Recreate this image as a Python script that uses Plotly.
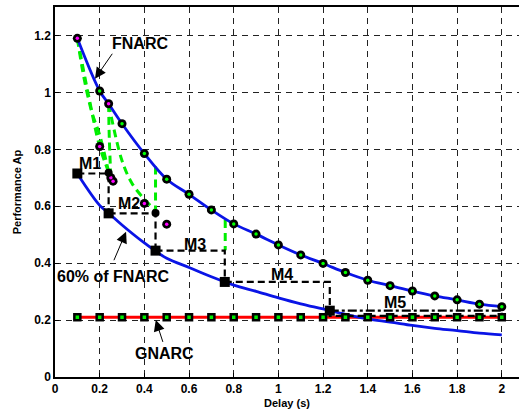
import plotly.graph_objects as go

# FNARC curve (upper) values
fn_x = [0.1, 0.2, 0.24, 0.3, 0.4, 0.5, 0.6, 0.7, 0.8, 0.9, 1.0, 1.1, 1.2, 1.3, 1.4, 1.5, 1.6, 1.7, 1.8, 1.9, 2.0]
fn_y = [1.19, 1.005, 0.96, 0.89, 0.785, 0.695, 0.642, 0.587, 0.538, 0.502, 0.464, 0.429, 0.399, 0.367, 0.340, 0.321, 0.302, 0.285, 0.271, 0.256, 0.247]
# 60% of FNARC
low_y = [0.714, 0.603, 0.576, 0.534, 0.471, 0.417, 0.385, 0.352, 0.323, 0.301, 0.278, 0.257, 0.239, 0.220, 0.204, 0.193, 0.181, 0.171, 0.163, 0.154, 0.148]

# markers on FNARC: colour of inner dot
fn_dot = ["magenta", "lime", "magenta"] + ["lime"] * 18

# off-curve points
off_x = [0.2, 0.25, 0.26, 0.4, 0.5]
off_y = [0.81, 0.70, 0.688, 0.61, 0.537]
end_x = [0.24, 0.45]
end_y = [0.718, 0.576]

# GNARC
gn_x = [0.1, 0.2, 0.3, 0.4, 0.5, 0.6, 0.7, 0.8, 0.9, 1.0, 1.1, 1.2, 1.3, 1.4, 1.5, 1.6, 1.7, 1.8, 1.9, 2.0]
gn_y = [0.21] * 20

# M steps (black squares)
m_x = [0.1, 0.24, 0.45, 0.76, 1.23]
m_y = [0.715, 0.575, 0.444, 0.334, 0.233]

# green dashed transitions
green_lines = [
    ([0.1, 0.15, 0.2, 0.25], [1.19, 0.99, 0.81, 0.70]),
    ([0.1, 0.13, 0.165, 0.2, 0.24], [1.19, 1.05, 0.93, 0.85, 0.72]),
    ([0.24, 0.243, 0.25], [0.96, 0.84, 0.70]),
    ([0.24, 0.3, 0.345, 0.4, 0.45], [0.96, 0.76, 0.68, 0.625, 0.585]),
    ([0.45, 0.45], [0.74, 0.585]),
    ([0.762, 0.762], [0.552, 0.445]),
]

GREEN = "#00ee00"
BLUE = "#0a14e6"
fig = go.Figure()

for gx, gy in green_lines:
    fig.add_trace(go.Scatter(x=gx, y=gy, mode="lines",
                             line=dict(color=GREEN, width=3, dash="8px,5px", shape="spline"),
                             showlegend=False, hoverinfo="skip"))

fig.add_trace(go.Scatter(x=gn_x, y=gn_y, mode="lines", line=dict(color="red", width=3),
                         showlegend=False))
fig.add_trace(go.Scatter(x=fn_x, y=fn_y, mode="lines", line=dict(color=BLUE, width=2.8, shape="spline"),
                         showlegend=False))
fig.add_trace(go.Scatter(x=fn_x, y=low_y, mode="lines", line=dict(color=BLUE, width=2.8, shape="spline"),
                         showlegend=False))

# M staircase segments
for i in range(len(m_x) - 1):
    fig.add_trace(go.Scatter(x=[m_x[i], m_x[i + 1], m_x[i + 1]], y=[m_y[i], m_y[i], m_y[i + 1]],
                             mode="lines", line=dict(color="black", width=2.2, dash="7px,4px"),
                             showlegend=False))
# M5 segments
fig.add_trace(go.Scatter(x=[m_x[4], 2.0, 2.0], y=[m_y[4], m_y[4], 0.215], mode="lines",
                         line=dict(color="black", width=2.2, dash="dashdot"), showlegend=False))
fig.add_trace(go.Scatter(x=[m_x[4], m_x[4], 2.0], y=[m_y[4], 0.215, 0.215], mode="lines",
                         line=dict(color="black", width=2.2, dash="7px,4px"), showlegend=False))

# GNARC markers
fig.add_trace(go.Scatter(x=gn_x, y=gn_y, mode="markers",
                         marker=dict(symbol="square", size=8.5, color="black"), showlegend=False))
fig.add_trace(go.Scatter(x=gn_x, y=gn_y, mode="markers",
                         marker=dict(symbol="square", size=3.5, color=GREEN), showlegend=False))

# FNARC markers
fig.add_trace(go.Scatter(x=fn_x, y=fn_y, mode="markers",
                         marker=dict(symbol="circle", size=9, color="black"), showlegend=False))
fig.add_trace(go.Scatter(x=fn_x, y=fn_y, mode="markers",
                         marker=dict(symbol="circle", size=3.5, color=fn_dot), showlegend=False))
fig.add_trace(go.Scatter(x=off_x, y=off_y, mode="markers",
                         marker=dict(symbol="circle", size=9, color="black"), showlegend=False))
fig.add_trace(go.Scatter(x=off_x, y=off_y, mode="markers",
                         marker=dict(symbol="circle", size=3.5, color="magenta"), showlegend=False))
fig.add_trace(go.Scatter(x=end_x, y=end_y, mode="markers",
                         marker=dict(symbol="circle", size=8, color="black"), showlegend=False))

# M squares
fig.add_trace(go.Scatter(x=m_x, y=m_y, mode="markers",
                         marker=dict(symbol="square", size=10, color="black"), showlegend=False))

font_b = dict(family="Liberation Sans, Arial", size=16, color="black")
texts = [
    ("FNARC", 0.38, 1.173), ("60% of FNARC", 0.26, 0.354), ("GNARC", 0.492, 0.084),
    ("M1", 0.157, 0.751), ("M2", 0.331, 0.611), ("M3", 0.627, 0.467),
    ("M4", 1.016, 0.361), ("M5", 1.522, 0.263),
]
ann = []
for t, x, y in texts:
    ann.append(dict(x=x, y=y, xref="x", yref="y", text="<b>" + t + "</b>", showarrow=False,
                    font=font_b, xanchor="center", yanchor="middle"))
arrows = [
    ((0.179, 1.048), (0.261, 1.141)),
    ((0.318, 0.510), (0.261, 0.405)),
    ((0.451, 0.200), (0.485, 0.118)),
]
for (tx, ty), (ax, ay) in arrows:
    ann.append(dict(x=tx, y=ty, ax=ax, ay=ay, xref="x", yref="y", axref="x", ayref="y",
                    text="", showarrow=True, arrowhead=2, arrowsize=2.2, arrowwidth=1,
                    arrowcolor="black"))

tick_font = dict(family="Liberation Sans, Arial", size=12, color="black")
title_font = dict(family="Liberation Sans, Arial", size=11, color="black")
fig.update_layout(
    width=519, height=411,
    margin=dict(l=55, r=0, t=7, b=34),
    plot_bgcolor="white", paper_bgcolor="white",
    annotations=ann,
    xaxis=dict(range=[0, 2.077], tickvals=[0, 0.2, 0.4, 0.6, 0.8, 1.0, 1.2, 1.4, 1.6, 1.8, 2.0],
               ticktext=["<b>0</b>", "<b>0.2</b>", "<b>0.4</b>", "<b>0.6</b>", "<b>0.8</b>", "<b>1</b>",
                         "<b>1.2</b>", "<b>1.4</b>", "<b>1.6</b>", "<b>1.8</b>", "<b>2</b>"],
               showline=True, linecolor="black", linewidth=1.5, mirror=True,
               ticks="inside", ticklen=4, tickcolor="black",
               showgrid=True, gridcolor="#222", gridwidth=1, griddash="6px,5px",
               zeroline=False, tickfont=tick_font,
               title=dict(text="<b>Delay (s)</b>", font=title_font, standoff=4)),
    yaxis=dict(range=[0, 1.3], tickvals=[0, 0.2, 0.4, 0.6, 0.8, 1.0, 1.2],
               ticktext=["<b>0</b>", "<b>0.2</b>", "<b>0.4</b>", "<b>0.6</b>", "<b>0.8</b>", "<b>1</b>", "<b>1.2</b>"],
               showline=True, linecolor="black", linewidth=1.5, mirror=False,
               ticks="inside", ticklen=4, tickcolor="black",
               showgrid=True, gridcolor="#222", gridwidth=1, griddash="6px,5px",
               zeroline=False, tickfont=tick_font,
               title=dict(text="<b>Performance Ap</b>", font=title_font, standoff=10)),
)

fig.write_html("out.html")
